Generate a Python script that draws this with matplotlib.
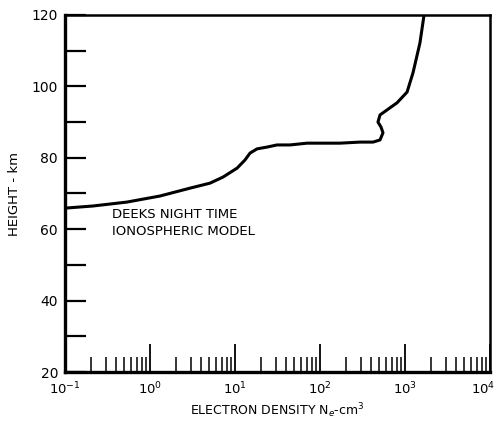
import numpy as np
import matplotlib.transforms as mtransforms
from matplotlib import pyplot as plt
from matplotlib.ticker import LogLocator, FixedLocator, NullFormatter

# Deeks night time ionospheric model
# log10 of electron density and the height in km
log_density = [-1.000, -0.671, -0.271, 0.118, 0.471, 0.706, 0.859, 1.024, 1.118, 1.176,
               1.259, 1.376, 1.494, 1.647, 1.847, 2.235, 2.471, 2.624, 2.706, 2.741,
               2.718, 2.682, 2.706, 2.788, 2.906, 3.024, 3.094, 3.176, 3.224]
height_km = [65.9, 66.5, 67.6, 69.3, 71.5, 72.9, 74.6, 77.1, 79.4, 81.3,
             82.5, 83.0, 83.6, 83.6, 84.1, 84.1, 84.4, 84.4, 85.0, 87.0,
             88.6, 90.0, 92.0, 93.4, 95.4, 98.4, 103.8, 112.2, 120.0]

x_ticks = [1e-1, 1e0, 1e1, 1e2, 1e3, 1e4]
x_labels = ['$10^{-1}$', '$10^{0}$', '$10^{1}$', '$10^{2}$', '$10^{3}$', '$10^{4}$']
y_ticks = [20, 40, 60, 80, 100, 120]
y_minor = [30, 50, 70, 90, 110]

density = [10 ** v for v in log_density]

fig = plt.figure(figsize=(4.96, 4.23), dpi=100)
ax = fig.add_axes([65 / 496, 1 - 372 / 423, 425 / 496, 357 / 423])

ax.plot(density, height_km, color='black', lw=2.2,
        solid_capstyle='round', solid_joinstyle='round')

ax.set_xscale('log')
ax.set_xlim(1e-1, 1e4)
ax.set_ylim(20, 120)

ax.set_xticks(x_ticks)
ax.set_xticklabels(x_labels, fontsize=9.5)
ax.xaxis.set_minor_locator(LogLocator(base=10, subs=np.arange(2, 10)))
ax.xaxis.set_minor_formatter(NullFormatter())
ax.set_yticks(y_ticks)
ax.set_yticklabels([str(v) for v in y_ticks], fontsize=10)
ax.yaxis.set_minor_locator(FixedLocator(y_minor))

ax.tick_params(axis='x', which='major', direction='in', length=20, width=1.3, pad=6)
ax.tick_params(axis='x', which='minor', direction='in', length=11, width=1.1)
ax.tick_params(axis='y', which='both', direction='in', length=15, width=1.6, pad=5)

# last label sits right at the figure edge, nudge it in a bit
last = ax.get_xticklabels()[-1]
last.set_transform(last.get_transform() +
                   mtransforms.ScaledTranslation(-7 / 100, 0, fig.dpi_scale_trans))

ax.spines['left'].set_linewidth(2.4)
ax.spines['bottom'].set_linewidth(2.4)
ax.spines['top'].set_linewidth(1.8)
ax.spines['right'].set_linewidth(1.8)

ax.set_xlabel('ELECTRON DENSITY N$_e$-cm$^3$', fontsize=9, labelpad=3)
ax.set_ylabel('HEIGHT - km', fontsize=9.5, labelpad=8)

ax.text(10 ** -0.45, 61.6, 'DEEKS NIGHT TIME\nIONOSPHERIC MODEL', fontsize=9.5,
        va='center', ha='left', linespacing=1.4)

plt.savefig('out.png', dpi=100)
